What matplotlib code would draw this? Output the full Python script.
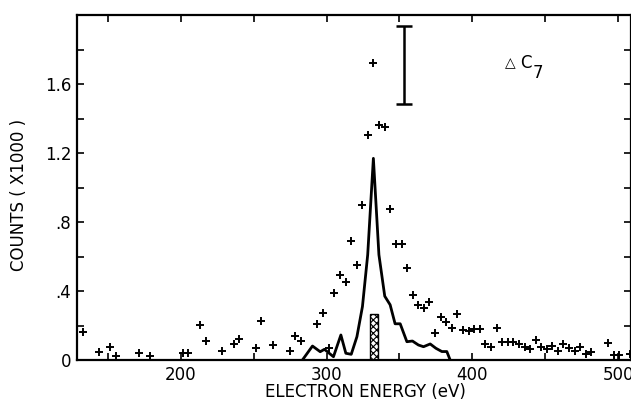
import matplotlib
matplotlib.use("Agg")
import matplotlib.pyplot as plt

plt.rcParams['font.family'] = ['DejaVu Sans']
plt.rcParams['hatch.linewidth'] = 0.8

# Measured counts (+ markers), energy in eV, counts in thousands
meas_energy = [132.6, 143.8, 151.6, 155.5, 171.1, 178.6, 201.5, 205.1, 213.1, 217.1,
               228.2, 236.3, 240.1, 251.6, 255.2, 263.0, 274.7, 278.3, 282.3, 293.7,
               297.6, 301.7, 305.3, 309.2, 313.1, 316.8, 320.7, 324.5, 328.4, 332.1,
               336.0, 339.9, 343.7, 347.7, 351.6, 355.2, 359.1, 362.8, 366.7, 370.3,
               374.4, 378.3, 382.2, 386.1, 389.7, 393.6, 397.5, 401.4, 405.3, 408.9,
               412.8, 416.7, 420.4, 424.5, 428.1, 432.0, 436.0, 439.6, 443.5, 447.4,
               451.2, 454.9, 458.8, 462.4, 466.3, 470.2, 473.9, 477.8, 481.6, 493.3,
               497.4, 500.8, 508.2]
meas_counts = [0.162, 0.046, 0.075, 0.023, 0.042, 0.025, 0.039, 0.039, 0.203, 0.112,
               0.054, 0.093, 0.123, 0.068, 0.228, 0.087, 0.054, 0.141, 0.108, 0.206,
               0.275, 0.072, 0.390, 0.492, 0.454, 0.691, 0.551, 0.897, 1.306, 1.720,
               1.361, 1.349, 0.874, 0.672, 0.672, 0.535, 0.377, 0.317, 0.303, 0.334,
               0.158, 0.252, 0.219, 0.183, 0.265, 0.176, 0.171, 0.179, 0.179, 0.093,
               0.075, 0.186, 0.103, 0.104, 0.104, 0.090, 0.075, 0.063, 0.115, 0.075,
               0.064, 0.083, 0.053, 0.090, 0.068, 0.055, 0.078, 0.037, 0.045, 0.099,
               0.027, 0.027, 0.035]

# Solid curve
curve_energy = [283.4, 290.3, 295.6, 298.5, 304.7, 309.8, 313.2, 316.9, 320.8, 324.6,
                328.2, 332.1, 335.9, 339.9, 343.6, 347.0, 350.5, 355.1, 358.9, 363.0,
                366.5, 371.1, 375.0, 379.1, 382.5, 384.8]
curve_counts = [0.0, 0.081, 0.048, 0.062, 0.019, 0.145, 0.039, 0.033, 0.135, 0.31,
                0.61, 1.169, 0.61, 0.37, 0.32, 0.21, 0.21, 0.106, 0.11, 0.087,
                0.077, 0.093, 0.068, 0.049, 0.049, 0.0]

# Hatched bar
bar_energy = [332.6]
bar_counts = [0.268]
bar_width = 5.3

# Representative error bar
err_energy = [353.4]
err_low = 1.486
err_high = 1.938

x_ticks = [150, 200, 250, 300, 350, 400, 450, 500]
x_tick_labels = ['', '200', '', '300', '', '400', '', '500']
y_ticks = [0, 0.2, 0.4, 0.6, 0.8, 1.0, 1.2, 1.4, 1.6, 1.8]
y_tick_labels = ['0', '', '.4', '', '.8', '', '1.2', '', '1.6', '']

fig = plt.figure(figsize=(6.31, 4.01), dpi=100)
ax = fig.add_axes([77/631, 41/401, 554/631, 345/401])

ax.plot(meas_energy, meas_counts, linestyle='none', marker='+', markersize=6,
        markeredgewidth=1.4, color='black')
ax.plot(curve_energy, curve_counts, color='black', linewidth=2,
        solid_joinstyle='round', solid_capstyle='round')
ax.bar(bar_energy, bar_counts, width=bar_width, facecolor='white', edgecolor='black',
       hatch='xxxxx', linewidth=1)
mid = (err_low + err_high) / 2
ax.errorbar(err_energy, [mid], yerr=[[mid - err_low], [err_high - mid]], fmt='none',
            ecolor='black', elinewidth=1.8, capsize=6, capthick=1.8)

# Label "ΔC7"
ax.text(422.3, 1.70, '△', fontsize=10, color='black', va='baseline', ha='left')
ax.text(432.8, 1.693, 'C', fontsize=12, color='black', va='baseline', ha='left')
ax.text(441.5, 1.635, '7', fontsize=12, color='black', va='baseline', ha='left')

ax.set_xlim(128.7, 508.9)
ax.set_ylim(0, 2.0)
ax.set_xticks(x_ticks)
ax.set_xticklabels(x_tick_labels)
ax.set_yticks(y_ticks)
ax.set_yticklabels(y_tick_labels)
ax.tick_params(direction='in', length=5, width=1.2, top=True, right=True,
               labelsize=12, pad=4)
for s in ax.spines.values():
    s.set_linewidth(1.6)

ax.set_xlabel('ELECTRON ENERGY (eV)', fontsize=12)
ax.set_ylabel('COUNTS ( X1000 )', fontsize=12)
ax.xaxis.set_label_coords(0.52, -0.068)
ax.yaxis.set_label_coords(-0.088, 0.478)

fig.savefig('out.png', dpi=100)
